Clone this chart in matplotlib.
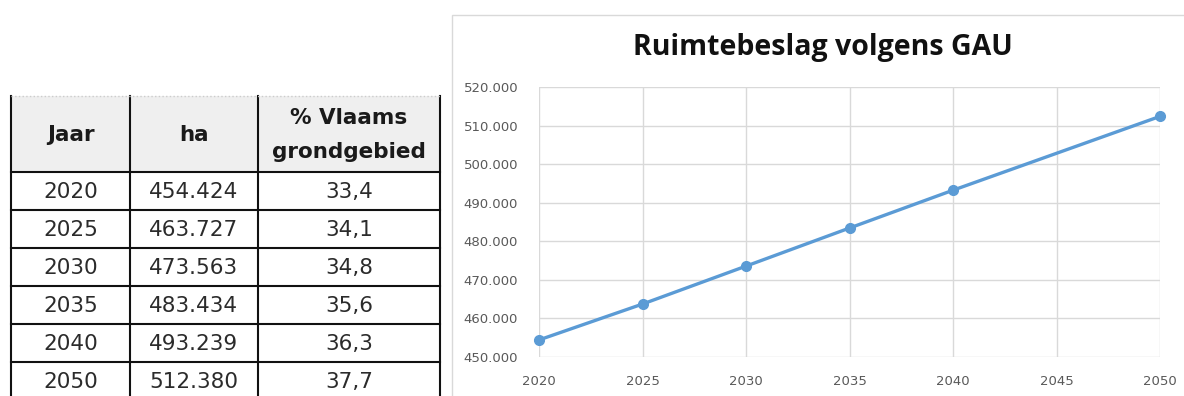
import numpy as np
import matplotlib.pyplot as plt
from matplotlib.patches import Rectangle
from matplotlib.ticker import FuncFormatter

# Ruimtebeslag per jaar
jaren = [2020, 2025, 2030, 2035, 2040, 2050]
ha = [454424, 463727, 473563, 483434, 493239, 512380]
pct = ["33,4", "34,1", "34,8", "35,6", "36,3", "37,7"]
kolommen = ["Jaar", "ha", "% Vlaams\ngrondgebied"]

W, H = 1184, 396

def nl_getal(v):
    return f"{int(round(v)):,}".replace(",", ".")

fig = plt.figure(figsize=(W / 100, H / 100), dpi=100)
fig.patch.set_facecolor("white")

# kader rond de grafiek (achter alles)
fig.patches.append(Rectangle((452 / W, -0.05), 1, (H - 15) / H + 0.05,
                             transform=fig.transFigure, facecolor="white",
                             edgecolor="#d9d9d9", lw=1, zorder=-5))

# ---- tabel links ----
tab_top, kop_h, rij_h = 96, 76, 38
tab_h = kop_h + rij_h * len(jaren)
tax = fig.add_axes([11 / W, (H - tab_top - tab_h) / H, 429 / W, tab_h / H])
tax.axis("off")
tax.set_xlim(0, 429)
tax.set_ylim(tab_h, 0)
col_x = [0, 119, 247, 429]

tax.add_patch(Rectangle((0, 0), 429, kop_h, facecolor="#efefef", edgecolor="none"))
for i, k in enumerate(kolommen):
    cx = (col_x[i] + col_x[i + 1]) / 2
    tax.text(cx, kop_h / 2 + 1, k, ha="center", va="center", fontsize=15.5,
             fontweight="bold", family="DejaVu Sans", color="#1a1a1a",
             linespacing=1.85)

rijen = [[str(j), nl_getal(v), p] for j, v, p in zip(jaren, ha, pct)]
for r, rij in enumerate(rijen):
    y = kop_h + r * rij_h + rij_h / 2
    for i, t in enumerate(rij):
        cx = (col_x[i] + col_x[i + 1]) / 2
        tax.text(cx, y + 1, t, ha="center", va="center", fontsize=15.5,
                 family="DejaVu Sans", color="#2b2b2b")

for x in col_x:
    tax.plot([x, x], [0, tab_h], color="#111111", lw=1.5, clip_on=False)
for r in range(len(jaren) + 1):
    y = kop_h + r * rij_h
    tax.plot([0, 429], [y, y], color="#111111", lw=1.5, clip_on=False)
tax.plot([0, 429], [0, 0], color="#cccccc", lw=1, ls=":", clip_on=False)

# ---- grafiek rechts ----
fig.text(823 / W, (H - 47) / H, "Ruimtebeslag volgens GAU", ha="center",
         va="center", fontsize=20.5, fontweight="bold", family="Open Sans",
         color="#111111")

ax = fig.add_axes([539 / W, (H - 357) / H, 621 / W, 270 / H])
ax.patch.set_alpha(0)
ax.plot(jaren, ha, color="#5b9bd5", lw=2.4, marker="o", ms=7, clip_on=False,
        zorder=3)
ax.set_xlim(2020, 2050)
ax.set_ylim(450000, 520000)
ax.set_xticks(np.arange(2020, 2051, 5))
ax.set_yticks(np.arange(450000, 520001, 10000))
ax.yaxis.set_major_formatter(FuncFormatter(lambda v, p: nl_getal(v)))
ax.grid(True, color="#d9d9d9", lw=1)
ax.set_axisbelow(True)
for s in ax.spines.values():
    s.set_visible(False)
ax.tick_params(length=0, labelsize=9.5, colors="#595959")
ax.tick_params(axis="y", pad=15)
ax.tick_params(axis="x", pad=13)

fig.savefig("out.png", dpi=100)
